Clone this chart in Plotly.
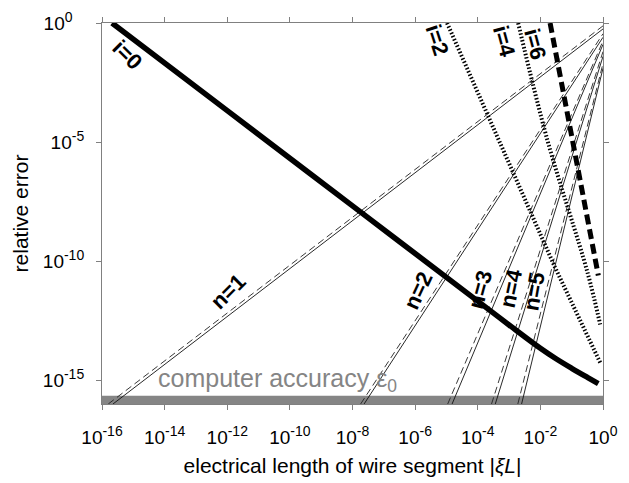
import numpy as np
import plotly.graph_objects as go

# ---------------- data (log10 values) ----------------
eps0 = 2.2e-16                      # computer accuracy
band_floor = 1e-16

# i = 0 (thick solid)
i0_lx = [-15.68, -12.0, -8.0, -4.0, -3.0, -2.0, -1.5, -1.0, -0.5, -0.15]
i0_ly = [0.0, -3.68, -7.68, -11.68, -12.68, -13.66, -14.10, -14.50, -14.88, -15.14]

# i = 2 (dotted)
i2_lx = [-4.98, -3.28, -1.53, -0.09]
i2_ly = [0.0, -5.1, -10.27, -14.26]

# i = 4 (dotted)
i4_lx = [-2.71, -1.78, -0.5, -0.09]
i4_ly = [0.0, -4.9, -10.45, -12.66]

# i = 6 (thick dashed)
i6_lx = [-1.69, -0.98, -0.15]
i6_ly = [0.0, -4.98, -10.6]

# n-lines: solid and dashed variants (log10 x, log10 y)
n_names = ["n=1", "n=2", "n=3", "n=4", "n=5"]
n_solid_lx = [[-15.65, 0.0], [-7.63, 0.0], [-4.82, 0.0], [-3.44, 0.0], [-2.60, 0.0]]
n_solid_ly = [[-16.0, -0.25], [-16.0, -0.6], [-16.0, -0.9], [-16.0, -1.4], [-16.0, -1.9]]
n_dash_lx = [[-15.80, 0.0], [-7.74, 0.0], [-4.96, 0.0], [-3.56, 0.0], [-2.72, 0.0]]
n_dash_ly = [[-16.0, -0.12], [-16.0, -0.45], [-16.0, -0.75], [-16.0, -1.2], [-16.0, -1.7]]

# curve labels: text, log10 x, log10 y, angle
lab_text = ["i=0", "i=2", "i=4", "i=6", "n=1", "n=2", "n=3", "n=4", "n=5"]
lab_lx = [-15.2, -5.30, -3.16, -2.17, -11.97, -5.90, -3.92, -2.93, -2.20]
lab_ly = [-1.32, -0.69, -0.78, -0.86, -11.28, -11.24, -11.2, -11.16, -11.28]
lab_ang = [45, 72, 75, 75, -45, -65, -75, -78, -80]

x_tick_exp = [-16, -14, -12, -10, -8, -6, -4, -2, 0]
y_tick_exp = [-15, -10, -5, 0]

# ---------------- figure ----------------
def p10(a):
    return np.power(10.0, np.array(a, dtype=float))

FONT = "Liberation Sans, Arial, sans-serif"
fig = go.Figure()

# computer accuracy band
fig.add_trace(go.Scatter(
    x=[10.0 ** x_tick_exp[0], 10.0 ** x_tick_exp[-1], 10.0 ** x_tick_exp[-1], 10.0 ** x_tick_exp[0]],
    y=[band_floor, band_floor, eps0, eps0],
    fill="toself", fillcolor="#858585", mode="lines",
    line=dict(width=0), hoverinfo="skip", showlegend=False))

for k in range(len(n_names)):
    fig.add_trace(go.Scatter(x=p10(n_dash_lx[k]), y=p10(n_dash_ly[k]), mode="lines",
                             line=dict(color="#222", width=0.9, dash="7px,4px"),
                             showlegend=False))
    fig.add_trace(go.Scatter(x=p10(n_solid_lx[k]), y=p10(n_solid_ly[k]), mode="lines",
                             line=dict(color="#111", width=0.9), showlegend=False))

fig.add_trace(go.Scatter(x=p10(i2_lx), y=p10(i2_ly), mode="lines",
                         line=dict(color="black", width=4, dash="1.5px,2px"), showlegend=False))
fig.add_trace(go.Scatter(x=p10(i4_lx), y=p10(i4_ly), mode="lines",
                         line=dict(color="black", width=4, dash="1.5px,2px", shape="spline"),
                         showlegend=False))
fig.add_trace(go.Scatter(x=p10(i6_lx), y=p10(i6_ly), mode="lines",
                         line=dict(color="black", width=5, dash="10px,5px"), showlegend=False))
fig.add_trace(go.Scatter(x=p10(i0_lx), y=p10(i0_ly), mode="lines",
                         line=dict(color="black", width=5.5, shape="spline"), showlegend=False))

for t, lx, ly, a in zip(lab_text, lab_lx, lab_ly, lab_ang):
    fig.add_annotation(x=lx, y=ly, text="<b>%s</b>" % t, showarrow=False, textangle=a,
                       font=dict(family=FONT, size=22, color="black"),
                       xanchor="center", yanchor="middle")

fig.add_annotation(x=-14.27, y=-15.0, text="computer accuracy ε<sub>0</sub>", showarrow=False,
                   xanchor="left", yanchor="middle",
                   font=dict(family=FONT, size=25, color="#858585"))

SUP = "<sup><span style='font-size:14px'>%s</span></sup>"
xticktext = ["10" + SUP % ("%d" % e) for e in x_tick_exp]
yticktext = ["10" + SUP % ("%d" % e) for e in y_tick_exp]
yticktext[-1] = "10" + SUP % "0\u00a0\u00a0\u00a0"

axis_common = dict(type="log", showgrid=False, zeroline=False, showline=True,
                   linecolor="#808080", linewidth=1, mirror="ticks", ticks="outside",
                   ticklen=5, tickcolor="#808080", automargin=False,
                   tickfont=dict(family=FONT, size=19, color="black"))

fig.update_xaxes(range=[-16, 0], tickvals=p10(x_tick_exp), ticktext=xticktext,
                 ticklabelstandoff=11,
                 title=dict(text="electrical length of wire segment |<i>ξL</i>|",
                            font=dict(family=FONT, size=21, color="black"), standoff=11),
                 **axis_common)
fig.update_yaxes(range=[-16, 0], tickvals=p10(y_tick_exp), ticktext=yticktext,
                 ticklabelstandoff=8,
                 title=dict(text="relative error", font=dict(family=FONT, size=21, color="black"),
                            standoff=8),
                 **axis_common)

# page body adds an 8px offset; size the figure so the plot area lands where the reference has it
fig.update_layout(width=621, height=475, margin=dict(l=94, r=26, t=15, b=79),
                  paper_bgcolor="white", plot_bgcolor="white", showlegend=False)

fig.write_html("out.html")
